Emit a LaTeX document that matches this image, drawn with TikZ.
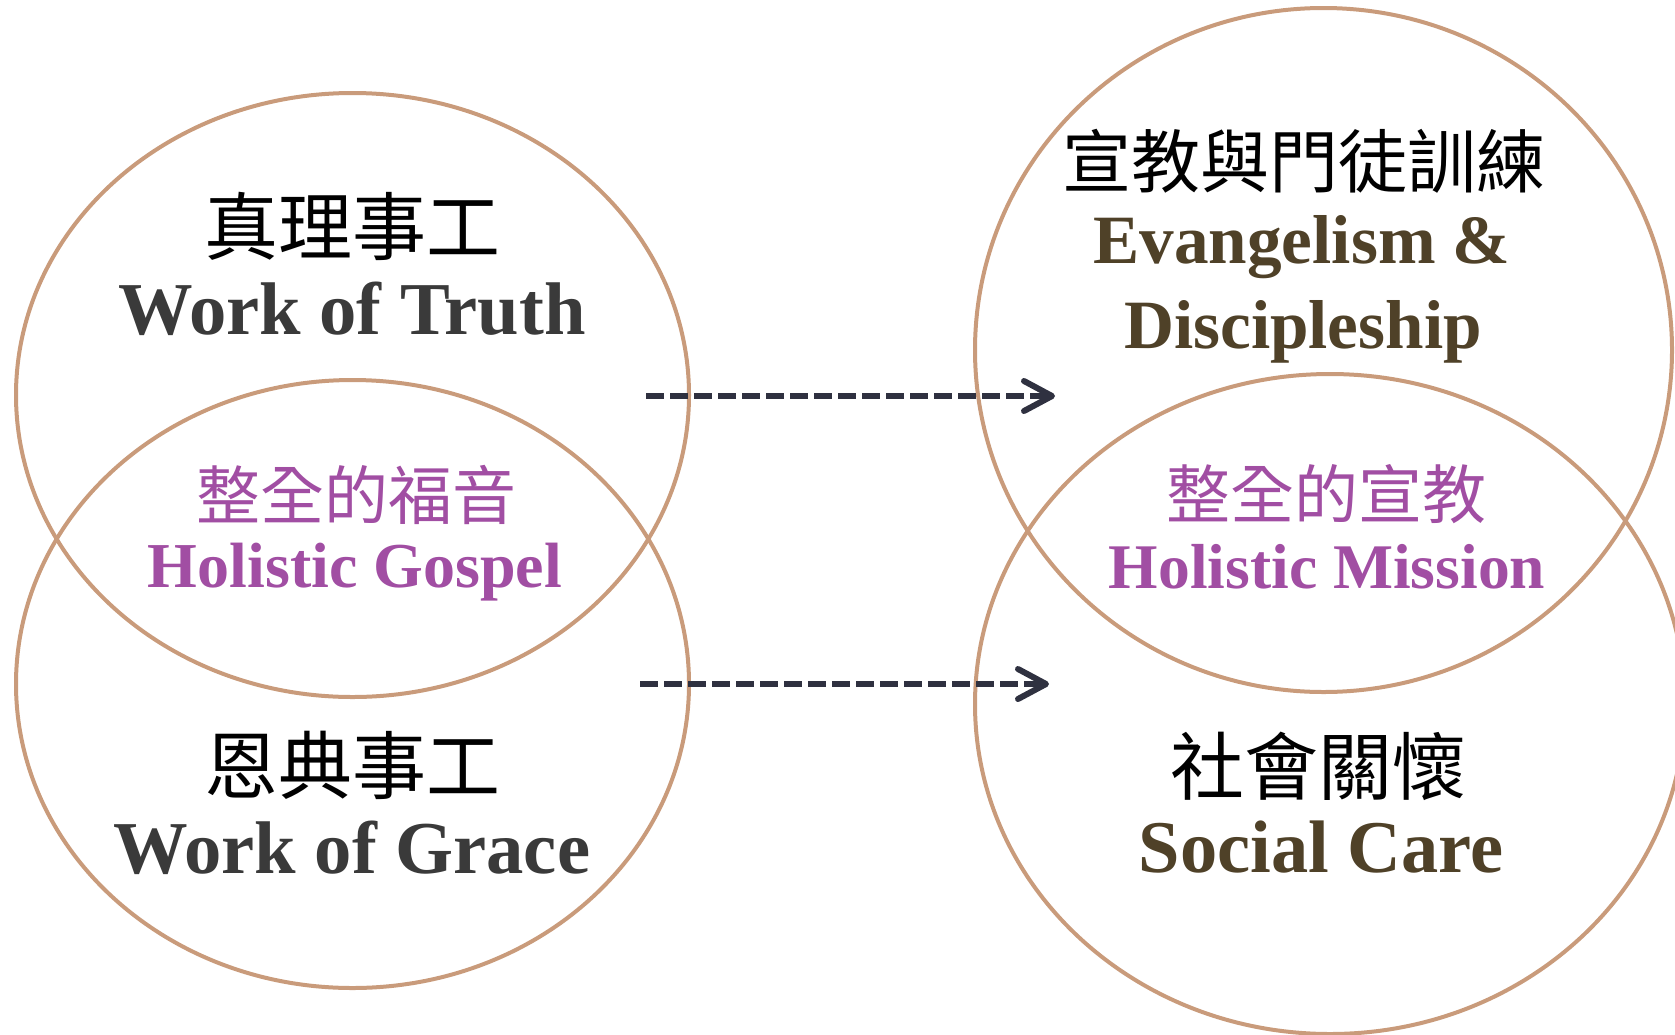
\documentclass[tikz,border=0pt]{standalone}
\usepackage{fontspec}
\setmainfont{Liberation Serif}
\newfontfamily\cjk{Noto Sans CJK TC}
\usetikzlibrary{shapes.geometric,arrows.meta}
\definecolor{ringc}{RGB}{201,155,123}
\definecolor{arrowc}{RGB}{47,49,64}
\definecolor{greyt}{RGB}{58,58,58}
\definecolor{brownt}{RGB}{79,65,40}
\definecolor{purplet}{RGB}{161,78,163}
\tikzset{
  ring/.style={ellipse,draw=ringc,line width=2pt,inner sep=0pt},
  zh/.style={inner sep=0pt,font=\cjk\fontsize{#1pt}{#1pt}\selectfont},
  en/.style={inner sep=0pt,anchor=base,font=\bfseries\fontsize{#1pt}{#1pt}\selectfont},
  flow/.style={draw=arrowc,line width=3pt,dash pattern=on 9pt off 3pt,
    -{Straight Barb[length=14pt,width=15pt,round]}}
}
\begin{document}
\begin{tikzpicture}[x=0.5pt,y=-0.5pt]
        \useasboundingbox (0,0) rectangle (1675,1034);
        %% Circles
        \node[ring,minimum width=336.5pt,minimum height=302pt] (truth) at (352.5,395) {};
        \node[ring,minimum width=336.5pt,minimum height=304pt] (grace) at (352.5,684) {};
        \node[ring,minimum width=348.5pt,minimum height=342pt] (evang) at (1323.5,350) {};
        \node[ring,minimum width=355pt,minimum height=330pt] (social) at (1330,704) {};
        %% Labels
        \node[zh=37] (truth-zh) at (352,226) {真理事工};
        \node[en=37.3,text=greyt] (truth-en) at (352,334) {Work of Truth};
        \node[zh=32,text=purplet] (gospel-zh) at (356,495) {整全的福音};
        \node[en=32,text=purplet] (gospel-en) at (355,587) {Holistic Gospel};
        \node[zh=37] (grace-zh) at (352,765) {恩典事工};
        \node[en=37.3,text=greyt] (grace-en) at (352,873) {Work of Grace};
        \node[zh=34.5] (evang-zh) at (1304,161) {宣教與門徒訓練};
        \node[en=34.6,text=brownt] (evang-en) at (1302,263) {Evangelism \&};
        \node[en=34.6,text=brownt] (disc-en) at (1303,348) {Discipleship};
        \node[zh=32,text=purplet] (mission-zh) at (1326,494) {整全的宣教};
        \node[en=31.8,text=purplet] (mission-en) at (1327,588) {Holistic Mission};
        \node[zh=37] (social-zh) at (1318,766) {社會關懷};
        \node[en=37.2,text=brownt] (social-en) at (1321,872) {Social Care};
        %% Arrows
        \coordinate (truth-out) at (646,396);
        \coordinate (evang-in) at (1055,396);
        \coordinate (grace-out) at (640,684);
        \coordinate (social-in) at (1049,684);
        \draw[flow] (truth-out) -- (evang-in);
        \draw[flow] (grace-out) -- (social-in);
    \end{tikzpicture}
\end{document}
